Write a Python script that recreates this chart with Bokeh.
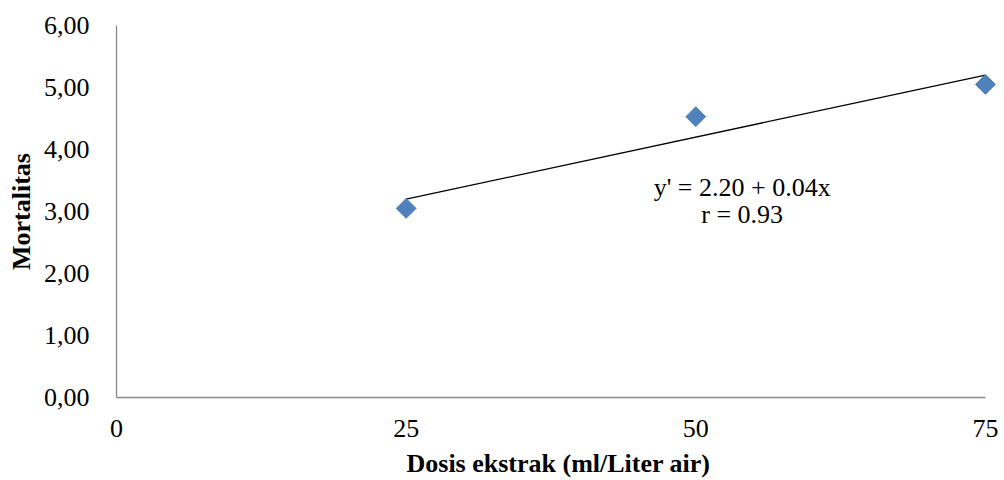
import numpy as np
from bokeh.plotting import figure
from bokeh.models import Range1d, FixedTicker, Label
from bokeh.embed import file_html
from bokeh.resources import INLINE

# Data
dosis = [25, 50, 75]
mortalitas = [3.05, 4.53, 5.05]
intercept = 2.20
slope = 0.04
r_value = 0.93
x_ticks = [0, 25, 50, 75]
y_ticks = [0, 1, 2, 3, 4, 5, 6]
y_tick_labels = ["0,00", "1,00", "2,00", "3,00", "4,00", "5,00", "6,00"]

FONT = "Liberation Serif"
FS = "26px"

# frame extends slightly past x=75 so the last marker is not clipped;
# the axis line itself stops at 75 through its bounds.
p = figure(width=1000, height=480, output_backend="svg", toolbar_location=None,
           x_range=Range1d(0, 76.3), y_range=Range1d(0, 6))
p.min_border_left = 116
p.min_border_right = 0
p.min_border_top = 25
p.min_border_bottom = 82

p.outline_line_color = None
p.xgrid.grid_line_color = None
p.ygrid.grid_line_color = None
p.background_fill_color = "white"
p.border_fill_color = "white"

for ax in (p.xaxis[0], p.yaxis[0]):
    ax.axis_line_color = "#898989"
    ax.axis_line_width = 1.3
    ax.major_tick_line_color = None
    ax.minor_tick_line_color = None
    ax.major_label_text_font = FONT
    ax.major_label_text_font_size = FS
    ax.major_label_text_color = "black"
    ax.axis_label_text_font = FONT
    ax.axis_label_text_font_size = FS
    ax.axis_label_text_font_style = "bold"
    ax.axis_label_text_color = "black"

p.xaxis.bounds = (x_ticks[0], x_ticks[-1])
p.xaxis.ticker = FixedTicker(ticks=x_ticks)
p.yaxis.ticker = FixedTicker(ticks=y_ticks)
p.yaxis.major_label_overrides = {t: l for t, l in zip(y_ticks, y_tick_labels)}
p.xaxis.axis_label = "Dosis ekstrak (ml/Liter air)"
p.yaxis.axis_label = "Mortalitas"
p.xaxis.major_label_standoff = 16
p.yaxis.major_label_standoff = 21
p.xaxis.axis_label_standoff = 9
p.yaxis.axis_label_standoff = 5

# trendline
tx = np.array([min(dosis), max(dosis)], dtype=float)
ty = intercept + slope * tx
p.line(tx, ty, line_color="black", line_width=1.3)

p.scatter(dosis, mortalitas, marker="square", angle=np.pi / 4, size=14,
          fill_color="#4F81BD", line_color="#4A7EBB", line_width=1)

p.add_layout(Label(x=54.0, y=3.38, text=f"y' = {intercept:.2f} + {slope:.2f}x",
                   text_font=FONT, text_font_size=FS, text_align="center",
                   text_baseline="alphabetic", text_color="black"))
p.add_layout(Label(x=54.0, y=2.95, text=f"r = {r_value:.2f}",
                   text_font=FONT, text_font_size=FS, text_align="center",
                   text_baseline="alphabetic", text_color="black"))

open("out.html", "w").write(file_html(p, INLINE))
